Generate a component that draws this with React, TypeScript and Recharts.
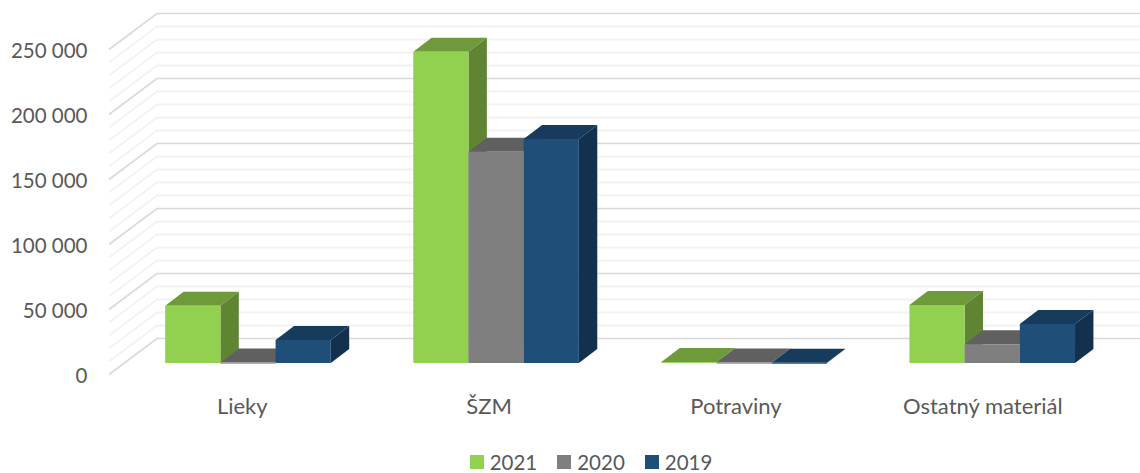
import React from "react";
import { BarChart, Bar, XAxis, YAxis, CartesianGrid, Legend } from "recharts";

const categories = ["Lieky", "ŠZM", "Potraviny", "Ostatný materiál"];
const values2021 = [44000, 239500, 700, 44600];
const values2020 = [300, 162500, 300, 14400];
const values2019 = [17700, 172300, 200, 30000];
const labelTicks = [0, 50000, 100000, 150000, 200000, 250000];
const gridTicks = [0, 10000, 20000, 30000, 40000, 50000, 60000, 70000, 80000, 90000, 100000, 110000, 120000, 130000, 140000, 150000, 160000, 170000, 180000, 190000, 200000, 210000, 220000, 230000, 240000, 250000];

const rows = categories.map((name, i) => ({
  name,
  y2021: values2021[i],
  y2020: values2020[i],
  y2019: values2019[i],
}));

const FONT = "Lato, 'Open Sans', sans-serif";
const TEXT = "#595959";
const DX = 18.4;
const DY = 14;

const palette: Record<string, { front: string; top: string; side: string }> = {
  y2021: { front: "#92d050", top: "#6f9a3c", side: "#5f8533" },
  y2020: { front: "#7f7f7f", top: "#606060", side: "#4f4f4f" },
  y2019: { front: "#1f4e79", top: "#173b5c", side: "#14304f" },
};

const box = (key: string) => (p: any) => {
  const { x, y, width, height } = p;
  const c = palette[key];
  return (
    <g>
      <polygon points={`${x},${y} ${x + DX},${y - DY} ${x + width + DX},${y - DY} ${x + width},${y}`} fill={c.top} />
      <polygon points={`${x + width},${y} ${x + width + DX},${y - DY} ${x + width + DX},${y + height - DY} ${x + width},${y + height}`} fill={c.side} />
      <rect x={x} y={y} width={width} height={Math.max(height, 1)} fill={c.front} />
    </g>
  );
};

const gridLine = (p: any) => {
  const i = p.index as number;
  const major = gridTicks[i] % 50000 === 0;
  const stroke = major ? "#d9d9d9" : "#f2f2f2";
  const sw = major ? 1.6 : 1.8;
  const front = p.y1 + 11.5;
  const back = p.y1 - 24.5;
  return (
    <g key={`grid-${i}`}>
      <polyline points={`109,${front} 157,${back} 1140,${back}`} fill="none" stroke={stroke} strokeWidth={sw} />
    </g>
  );
};

const YTick = (p: any) => (
  <text x={87.5} y={p.y + 12.6} dy="0.35em" textAnchor="end" fontFamily={FONT} fontSize={20.5} fill={TEXT}>
    {p.payload.value === 0 ? "0" : p.payload.value.toLocaleString("en-US").replace(/,/g, " ")}
  </text>
);

const XTick = (p: any) => (
  <text x={p.x - 6 - 1.2 * p.index} y={406} dy="0.35em" textAnchor="middle" fontFamily={FONT} fontSize={22} fill={TEXT}>
    {p.payload.value}
  </text>
);

const legendItems = [
  { label: "2021", key: "y2021" },
  { label: "2020", key: "y2020" },
  { label: "2019", key: "y2019" },
];

const LegendBody = () => (
  <div style={{ display: "flex", justifyContent: "center", alignItems: "center", paddingLeft: 42, fontFamily: FONT, fontSize: 20.5, color: TEXT, lineHeight: "24px" }}>
    {legendItems.map((it, i) => (
      <div key={it.key} style={{ display: "flex", alignItems: "center", marginLeft: i ? 20 : 0 }}>
        <span style={{ width: 14, height: 14, background: palette[it.key].front, marginRight: 6, display: "inline-block" }} />
        <span>{it.label}</span>
      </div>
    ))}
  </div>
);

export default function App() {
  return (
    <div style={{ position: "absolute", left: 0, top: 0, width: 1140, height: 473, overflow: "hidden", background: "#fff" }}>
      <BarChart
        width={1140}
        height={473}
        data={rows}
        margin={{ top: 38, right: 23.5, bottom: 0, left: 0 }}
        barGap={0}
        barSize={55.2}
      >
        <CartesianGrid vertical={false} horizontalValues={gridTicks} horizontal={gridLine} />
        <XAxis dataKey="name" height={86} axisLine={false} tickLine={false} interval={0} tick={XTick} />
        <YAxis width={124.2} domain={[0, 250000]} ticks={labelTicks} interval={0} axisLine={false} tickLine={false} tick={YTick} />
        <Bar dataKey="y2021" name="2021" fill={palette.y2021.front} shape={box("y2021")} isAnimationActive={false} />
        <Bar dataKey="y2020" name="2020" fill={palette.y2020.front} shape={box("y2020")} isAnimationActive={false} />
        <Bar dataKey="y2019" name="2019" fill={palette.y2019.front} shape={box("y2019")} isAnimationActive={false} />
        <Legend content={LegendBody} wrapperStyle={{ left: 0, top: 450, width: 1140, bottom: "auto" }} />
      </BarChart>
    </div>
  );
}
